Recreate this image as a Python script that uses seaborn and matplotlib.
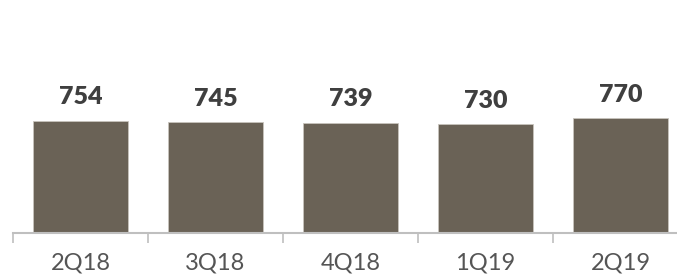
import pandas as pd
import matplotlib.pyplot as plt
import seaborn as sns

quarters = ["2Q18", "3Q18", "4Q18", "1Q19", "2Q19"]
values = [754, 745, 739, 730, 770]

df = pd.DataFrame({"quarter": quarters, "value": values})

sns.set_style("white")
plt.rcParams["font.family"] = ["Lato", "DejaVu Sans"]

fig = plt.figure(figsize=(6.77, 2.76), dpi=100)
ax = fig.add_axes([13 / 677, 43 / 276, 675 / 677, 233 / 276])

sns.barplot(data=df, x="quarter", y="value", color="#6A6256", width=0.71,
            saturation=1, edgecolor="#c8c4bd", linewidth=0.6, ax=ax)

ax.bar_label(ax.containers[0], fmt="%d", padding=9, fontsize=18,
             fontweight="heavy", color="#3f3f3f")

ax.set_xlim(-0.5, 4.5)
ax.set_ylim(0, 1565)
ax.set_xlabel("")
ax.set_ylabel("")
ax.set_yticks([])

for side in ["left", "right", "top"]:
    ax.spines[side].set_visible(False)
ax.spines["bottom"].set_color("#bfbfbf")
ax.spines["bottom"].set_linewidth(1.5)

# ticks sit between the categories
ax.set_xticks([i - 0.5 for i in range(len(quarters) + 1)], minor=True)
ax.tick_params(axis="x", which="minor", bottom=True, length=7, width=1.2,
               color="#bfbfbf", direction="out")
ax.tick_params(axis="x", which="major", bottom=True, length=0, pad=14,
               labelsize=17, labelcolor="#555555")

fig.savefig("out.png", dpi=100)
